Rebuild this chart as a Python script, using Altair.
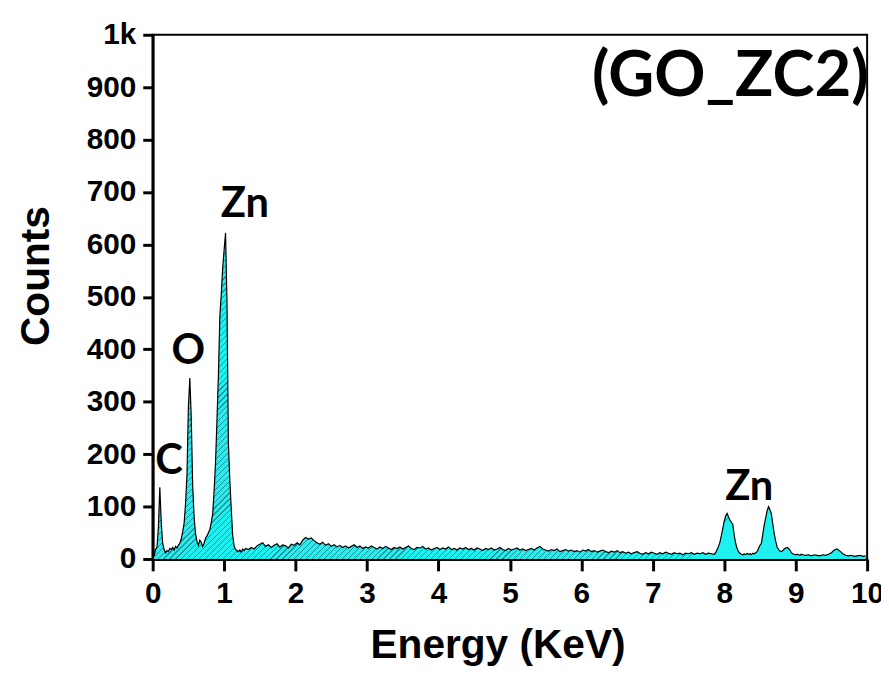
import altair as alt
import numpy as np
import pandas as pd

# ---- spectrum data (counts), four channel segments ----
seg1_start, seg1_step = 0.02, 0.02
seg1_counts = [5, 18, 22, 60, 137, 70, 30, 18, 12, 16,
               14, 20, 18, 22, 17, 24, 21, 26, 30, 38,
               52, 68, 105, 160, 290, 345, 270, 140, 80, 48,
               34, 26, 36, 32, 24, 30, 40, 44, 50, 56,
               70, 86, 130, 185, 265, 350, 462, 505, 555, 590,
               622, 490, 220, 150, 95, 45, 25, 18, 16, 14,
               17, 13, 19, 16, 20]

seg2_start, seg2_step = 1.34, 0.04
seg2_counts = [18, 22, 19, 25, 28, 31, 24, 27, 22, 26,
               29, 23, 27, 25, 21, 28, 26, 31, 27, 36,
               41, 38, 40, 35, 31, 28, 32, 26, 29, 24,
               27, 23, 26, 22, 25, 21, 24, 27, 22, 25,
               20, 23, 21, 25, 22, 19, 23, 20, 24, 21,
               18, 22, 20, 23, 19, 22, 25, 20, 18, 22,
               21, 24, 19, 21, 17, 20, 22, 18, 21, 19,
               23, 18, 20, 17, 21, 19, 22, 18, 20, 17,
               21, 19, 16, 20, 18, 21, 17, 19, 22, 18,
               16, 20, 17, 19, 21, 17, 19, 16, 18, 20,
               17, 21, 24, 19, 17, 15, 18, 16, 19, 14,
               16, 18, 15, 17, 14, 16, 13, 17, 15, 18,
               14, 16, 13, 15, 17, 14, 12, 15, 13, 16,
               12, 14, 11, 13, 10, 12, 14, 11, 9, 12,
               10, 13, 11, 9, 12, 10, 13, 11, 9, 12,
               10, 11, 8, 11, 10, 12, 9, 11, 10, 12,
               9, 11, 10]

seg3_start, seg3_step = 7.86, 0.02
seg3_counts = [9, 12, 18, 24, 32, 45, 58, 72, 82, 87,
               80, 74, 70, 66, 45, 30, 20, 14, 11, 9,
               8, 10, 8, 11, 9, 10, 8, 11, 10, 12,
               14, 20, 26, 30, 48, 65, 78, 92, 100, 94,
               86, 66, 48, 34, 23, 18, 15, 14, 16, 19,
               21, 22, 20, 17, 12, 10, 9, 8, 9, 8,
               7, 9, 8]

seg4_start, seg4_step = 9.14, 0.04
seg4_counts = [7, 8, 6, 8, 7, 6, 8, 7, 9, 12,
               17, 19, 15, 10, 7, 6, 7, 5, 6, 7,
               5, 6]

# peak annotations
peak_labels = ["C", "O", "Zn", "Zn"]
peak_x = [0.23, 0.50, 1.29, 8.35]
peak_y = [163, 372, 652, 112]

sample_label = "(GO_ZC2)"
x_ticks = [i * 0.5 for i in range(21)]
y_ticks = [i * 50 for i in range(21)]

# ---- build table ----
frames = []
for start, step, counts in [(seg1_start, seg1_step, seg1_counts),
                            (seg2_start, seg2_step, seg2_counts),
                            (seg3_start, seg3_step, seg3_counts),
                            (seg4_start, seg4_step, seg4_counts)]:
    e = np.round(start + step * np.arange(len(counts)), 2)
    frames.append(pd.DataFrame({"Energy": e, "Counts": counts}))
spec = pd.concat(frames, ignore_index=True)

labels_df = pd.DataFrame({"label": peak_labels, "Energy": peak_x, "Counts": peak_y})
sample_df = pd.DataFrame({"label": [sample_label], "Energy": [10.02], "Counts": [883]})

# ---- hatch gradient (diagonal stripes) ----
W_px = (spec["Energy"].max() - spec["Energy"].min()) * 72.1
H_px = spec["Counts"].max() * 0.529
b = H_px / W_px
L = W_px * (1 + b * b)
period, lw = 6.0, 1.2
base_col, hatch_col = "#1FF0F0", "#2B8A93"
stops = [alt.GradientStop(color=base_col, offset=0)]
k = 0
while True:
    t0 = (k * period + 2) / L
    t1 = (k * period + 2 + lw) / L
    if t1 >= 1:
        break
    stops += [alt.GradientStop(color=base_col, offset=round(t0, 6)),
              alt.GradientStop(color=hatch_col, offset=round(t0, 6)),
              alt.GradientStop(color=hatch_col, offset=round(t1, 6)),
              alt.GradientStop(color=base_col, offset=round(t1, 6))]
    k += 1
stops.append(alt.GradientStop(color=base_col, offset=1))
hatch = alt.LinearGradient(gradient="linear", stops=stops, x1=0, y1=0, x2=1, y2=round(b, 4))

FONT = "Liberation Sans"

x_enc = alt.X("Energy:Q", scale=alt.Scale(domain=[0, 10], nice=False),
              axis=alt.Axis(values=x_ticks, title="Energy (KeV)",
                            labelExpr="datum.value % 1 === 0 ? format(datum.value, 'd') : ''",
                            tickSize={"condition": {"test": "datum.value % 1 === 0", "value": 12}, "value": 7},
                            labelPadding=8, labelFlush=False, labelOverlap=False,
                            titleX=348, titleY=99, titleBaseline="alphabetic", titleAlign="center",
                            titleFontSize=41))
y_enc = alt.Y("Counts:Q", scale=alt.Scale(domain=[0, 1000], nice=False),
              axis=alt.Axis(values=y_ticks, title="Counts",
                            labelExpr="datum.value % 100 === 0 ? (datum.value === 1000 ? '1k' : datum.label) : ''",
                            tickSize={"condition": {"test": "datum.value % 100 === 0", "value": 10}, "value": 6},
                            labelPadding=7, labelOverlap=False, labelFlush=False,
                            titleAngle=270, titleX=-105, titleY=243,
                            titleBaseline="alphabetic", titleAlign="center", titleFontSize=41))

base = alt.Chart(spec)
area = base.mark_area(color=hatch, interpolate="linear").encode(x=x_enc, y=y_enc)
line = base.mark_line(color="black", strokeWidth=1.2).encode(x="Energy:Q", y="Counts:Q")

text = alt.Chart(labels_df).mark_text(font="Lato", fontWeight="bold", fontSize=42,
                                      align="center", baseline="alphabetic", color="black").encode(
    x="Energy:Q", y="Counts:Q", text="label:N")
sample = alt.Chart(sample_df).mark_text(font="Lato", fontWeight="bold", fontSize=64,
                                        align="right", baseline="alphabetic", color="black").encode(
    x="Energy:Q", y="Counts:Q", text="label:N")

chart = alt.layer(area, line, text, sample).properties(
    width=721, height=529,
    padding={"left": 146, "top": 24, "right": 14, "bottom": 106},
    autosize=alt.AutoSizeParams(type="none"),
).configure_view(stroke="black", strokeWidth=2).configure_axis(
    grid=False,
    domainColor="black", domainWidth=3,
    tickColor="black", tickWidth=3,
    labelFont=FONT, labelFontSize=30, labelFontWeight="bold", labelColor="black",
    titleFont=FONT, titleFontSize=40, titleFontWeight="bold", titleColor="black",
)

chart.save("out.html", embed_options={"renderer": "svg", "actions": False})
